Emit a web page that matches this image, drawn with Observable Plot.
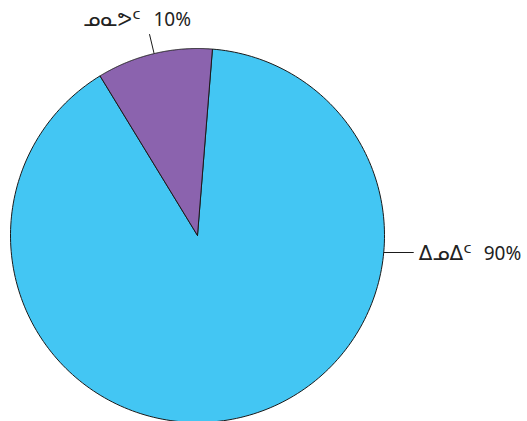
<!DOCTYPE html>
<html>
<head>
<meta charset="utf-8">
<script src="https://cdn.jsdelivr.net/npm/d3@7"></script>
<script src="https://cdn.jsdelivr.net/npm/@observablehq/plot@0.6"></script>
<style>
html,body{margin:0;padding:0;background:#fff;}
</style>
</head>
<body>
<div id="chart"></div>
<script>
const categories = ["ᐃᓄᐃᑦ", "ᓄᓇᕗᑦ"];
const values = [90, 10];
const percentLabels = ["90%", "10%"];
const colors = ["#43C6F3", "#8B63AE"];

const R = 187;
const start = 0.08;
const arcs = d3.pie().sort(null).startAngle(start).endAngle(start + 2 * Math.PI)(values);

const pts = [];
arcs.forEach((a, i) => {
  pts.push({k: categories[i], x: 0, y: 0});
  const n = 240;
  for (let j = 0; j <= n; j++) {
    const t = a.startAngle + (a.endAngle - a.startAngle) * j / n;
    pts.push({k: categories[i], x: R * Math.sin(t), y: R * Math.cos(t)});
  }
  pts.push({k: categories[i], x: 0, y: 0});
});

// leader lines
const leaders = [];
const yb = -17;
const xb = Math.sqrt(R * R - yb * yb);
leaders.push({x1: xb, y1: yb, x2: xb + 30, y2: yb});
const m = (arcs[1].startAngle + arcs[1].endAngle) / 2;
const ex = (R + 20) * Math.sin(m), ey = (R + 20) * Math.cos(m);
leaders.push({x1: R * Math.sin(m), y1: R * Math.cos(m), x2: ex, y2: ey});

const sylTexts = [
  {t: categories[0], x: xb + 35, y: yb - 1, a: "start"},
  {t: categories[1], x: ex - 37.5, y: ey + 14.5, a: "middle"}
];
const pctTexts = [
  {t: percentLabels[0], x: xb + 100, y: yb - 1},
  {t: percentLabels[1], x: ex + 4, y: ey + 14.5}
];

const chart = Plot.plot({
  width: 527, height: 421,
  margin: 0,
  x: {domain: [-197, 330], axis: null},
  y: {domain: [-186, 235], axis: null},
  color: {domain: categories, range: colors},
  style: {fontFamily: "'Noto Sans', 'DejaVu Sans', sans-serif", background: "#fff"},
  marks: [
    Plot.line(pts, {x: "x", y: "y", z: "k", fill: "k", stroke: "#1a1a1a", strokeWidth: 1, curve: "linear"}),
    Plot.link(leaders, {x1: "x1", y1: "y1", x2: "x2", y2: "y2", stroke: "#1a1a1a", strokeWidth: 1}),
    Plot.text(sylTexts.filter(d => d.a === "start"), {x: "x", y: "y", text: "t", textAnchor: "start", fontSize: 20, fill: "#222", fontFamily: "'DejaVu Sans'"}),
    Plot.text(sylTexts.filter(d => d.a === "middle"), {x: "x", y: "y", text: "t", textAnchor: "middle", fontSize: 20, fill: "#222", fontFamily: "'DejaVu Sans'"}),
    Plot.text(pctTexts, {x: "x", y: "y", text: "t", textAnchor: "start", fontSize: 19, fill: "#222"})
  ]
});
document.getElementById("chart").appendChild(chart);
</script>
</body>
</html>
